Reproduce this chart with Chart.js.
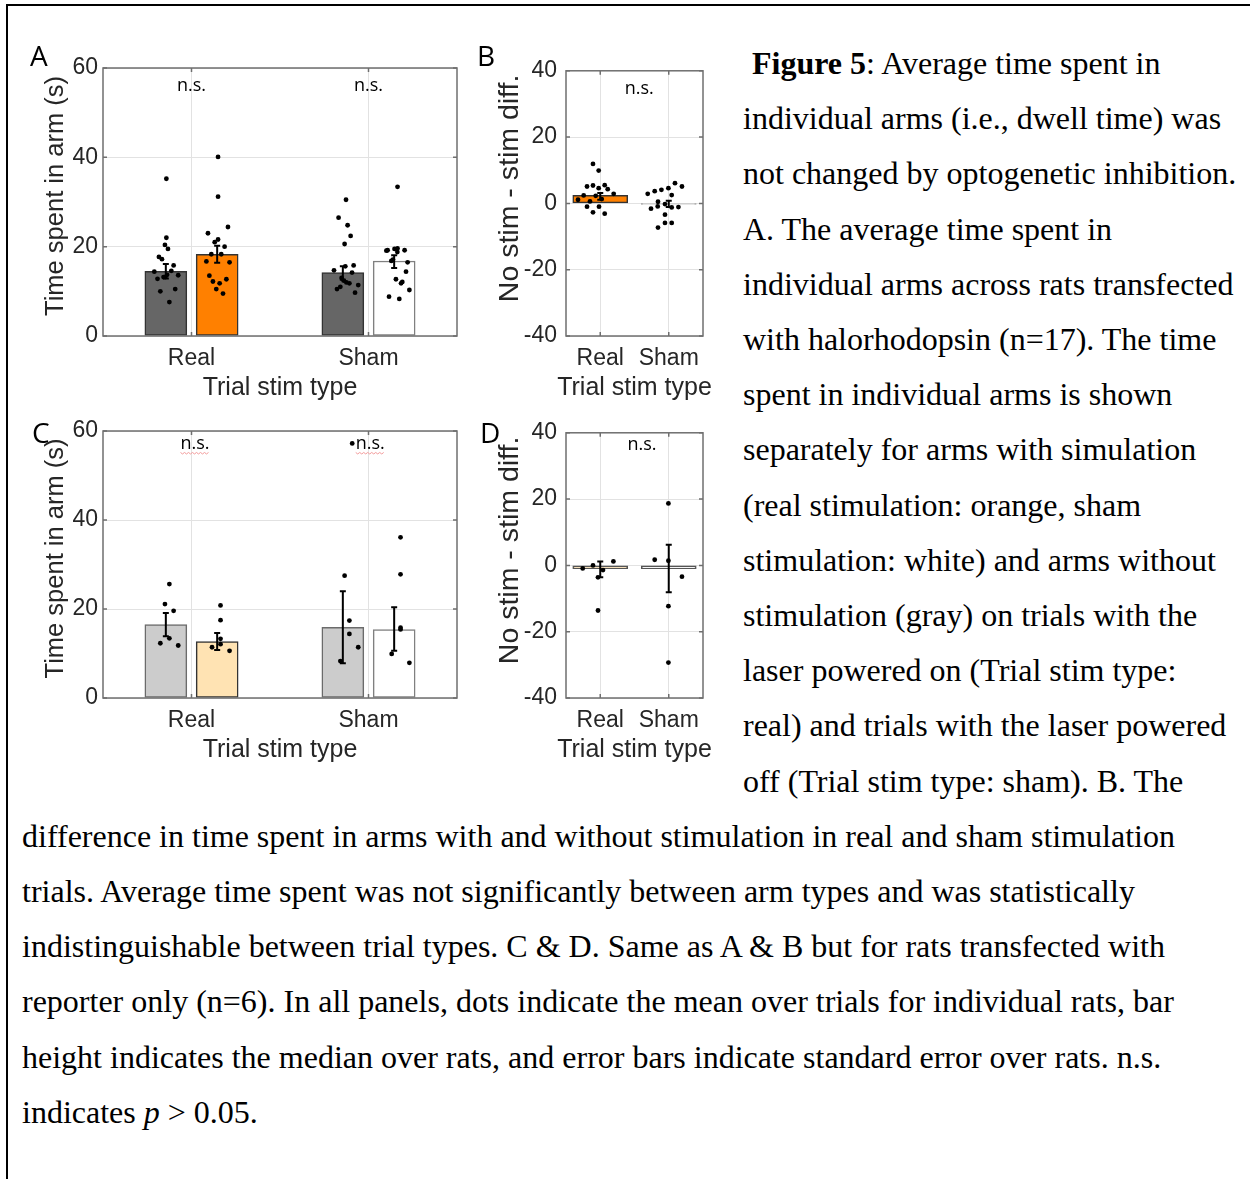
<!DOCTYPE html>
<html>
<head>
<meta charset="utf-8">
<script src="https://cdn.jsdelivr.net/npm/chart.js@4.4.1/dist/chart.umd.min.js"></script>
<style>
  html, body { margin: 0; padding: 0; background: #fff; }
  body { width: 1250px; height: 1179px; position: relative; overflow: hidden; }
  .frame { position: absolute; left: 6px; top: 4px; width: 1260px; height: 1190px; border-top: 2px solid #000; border-left: 2px solid #000; }
  .panel { position: absolute; }
  .letter { position: absolute; font-family: "Open Sans", sans-serif; font-size: 28px; line-height: 1; color: #000; }
  .cap { position: absolute; font-family: "Liberation Serif", "Times New Roman", serif; font-size: 32px; line-height: 1; white-space: nowrap; color: #000; }
</style>
</head>
<body>
<div class="frame"></div>

<div class="panel" style="left:20px;top:48px"><canvas id="chartA" width="450" height="360"></canvas></div>
<div class="panel" style="left:470px;top:48px"><canvas id="chartB" width="245" height="360"></canvas></div>
<div class="panel" style="left:20px;top:410px"><canvas id="chartC" width="450" height="360"></canvas></div>
<div class="panel" style="left:470px;top:410px"><canvas id="chartD" width="245" height="360"></canvas></div>

<div class="letter" style="left:30px;top:41px">A</div>
<div class="letter" style="left:477px;top:41px">B</div>
<div class="letter" style="left:32px;top:418px">C</div>
<div class="letter" style="left:480px;top:418px">D</div>

<div id="caption"></div>

<script>
const categories = ['Real', 'Sham'];

// ---- Panel A: halorhodopsin (n=17), dwell time (s) ----
const aNoStimBars = [14.5, 14.2];
const aStimBars = [18.3, 16.8];
const aNoStimErrLo = [12.9, 12.6];
const aNoStimErrHi = [16.1, 15.6];
const aStimErrLo = [16.4, 15.2];
const aStimErrHi = [20.2, 18.1];
const aRealNoStimY = [35.2, 22.0, 20.4, 19.5, 17.7, 17.2, 15.8, 14.4, 14.6, 13.7, 13.2, 12.8, 13.6, 13.2, 10.5, 10.0, 7.6];
const aRealNoStimX = [0.858, 0.858, 0.850, 0.867, 0.816, 0.833, 0.899, 0.790, 0.886, 0.862, 0.842, 0.808, 0.925, 0.852, 0.908, 0.824, 0.875];
const aRealStimY = [40.1, 31.2, 24.4, 23.0, 21.6, 21.0, 20.0, 18.3, 18.3, 16.7, 16.5, 13.5, 12.7, 12.2, 11.8, 10.5, 9.5];
const aRealStimX = [1.150, 1.150, 1.206, 1.093, 1.150, 1.131, 1.187, 1.112, 1.168, 1.084, 1.215, 1.101, 1.197, 1.121, 1.159, 1.140, 1.178];
const aShamNoStimY = [30.5, 26.5, 24.8, 22.4, 20.6, 15.6, 15.8, 14.7, 14.2, 13.0, 12.4, 12.0, 11.8, 11.0, 11.4, 10.5, 9.7];
const aShamNoStimX = [1.873, 1.831, 1.882, 1.899, 1.865, 1.869, 1.916, 1.805, 1.907, 1.848, 1.859, 1.875, 1.892, 1.841, 1.942, 1.822, 1.924];
const aShamStimY = [33.4, 19.5, 19.6, 19.1, 19.2, 19.2, 18.8, 17.1, 16.8, 16.5, 14.4, 12.7, 12.1, 11.8, 10.3, 8.8, 8.3];
const aShamStimX = [2.164, 2.147, 2.164, 2.101, 2.108, 2.204, 2.163, 2.138, 2.129, 2.221, 2.212, 2.155, 2.191, 2.184, 2.231, 2.116, 2.174];

// ---- Panel B: no stim - stim difference (halorhodopsin) ----
const bBars = [2.4, -0.2];
const bErrLo = [1.1, -1.1];
const bErrHi = [3.1, 0.8];
const bRealY = [11.9, 9.9, 5.1, 5.4, 4.6, 5.5, 4.3, 2.9, 2.4, 2.3, 1.3, 1.1, 0.6, -1.0, -1.0, -2.7, -3.1];
const bRealX = [0.894, 0.977, 0.807, 0.894, 0.977, 1.065, 1.109, 1.196, 0.758, 0.934, 1.021, 0.675, 0.850, 0.807, 0.982, 0.894, 1.065];
const bShamY = [6.1, 5.1, 4.6, 4.1, 3.7, 2.9, 2.5, 0.5, -0.2, -0.9, -1.2, -1.1, -1.6, -3.4, -5.9, -5.9, -7.3];
const bShamX = [2.091, 2.193, 1.995, 1.893, 1.795, 1.693, 2.043, 1.843, 1.945, 1.839, 2.043, 2.141, 1.741, 1.945, 1.945, 2.043, 1.843];

// ---- Panel C: reporter only (n=6) ----
const cNoStimBars = [16.5, 15.9];
const cStimBars = [12.7, 15.4];
const cNoStimErrLo = [13.9, 7.8];
const cNoStimErrHi = [19.1, 24.0];
const cStimErrLo = [10.8, 10.6];
const cStimErrHi = [14.6, 20.4];
const cRealNoStimY = [25.6, 21.1, 19.6, 13.4, 12.3, 11.8];
const cRealNoStimX = [0.875, 0.850, 0.899, 0.875, 0.824, 0.925];
const cRealStimY = [20.8, 17.5, 13.3, 12.1, 11.4, 10.6];
const cRealStimX = [1.164, 1.164, 1.164, 1.164, 1.116, 1.215];
const cShamNoStimY = [57.2, 27.5, 17.4, 14.4, 11.4, 8.3];
const cShamNoStimX = [1.908, 1.865, 1.892, 1.892, 1.942, 1.841];
const cShamStimY = [36.1, 27.8, 15.8, 15.4, 9.9, 7.9];
const cShamStimX = [2.181, 2.181, 2.181, 2.181, 2.131, 2.231];

// ---- Panel D: difference (reporter only) ----
const dBars = [-1.0, -1.0];
const dErrLo = [-3.6, -8.1];
const dErrHi = [1.2, 6.2];
const dRealY = [1.2, 0.0, -0.9, -1.4, -3.6, -13.6];
const dRealX = [1.192, 0.894, 0.744, 1.040, 0.967, 0.967];
const dShamY = [18.7, 1.7, 1.4, -3.4, -12.3, -29.3];
const dShamX = [1.995, 1.795, 1.995, 2.193, 1.995, 1.995];

// n.s. annotations (x in category units, y in data units)
const aNs = [{x: 1.0, y: 55.9}, {x: 2.0, y: 55.9}];
const bNs = [{x: 1.57, y: 34.5}];
const cNs = [{x: 1.02, y: 57.2}, {x: 2.01, y: 57.2}];
const dNs = [{x: 1.61, y: 36.4}];

const textColor = '#262626';
const gridColor = '#e2e2e2';
const frameColor = '#6f6f6f';
const tickFont = {family: '"Liberation Sans", Arial, sans-serif', size: 23};
const xTitleFont = '25px "Liberation Sans", Arial, sans-serif';
const groupOffset = 0.145;   // no-stim bar left of the category, stim bar right

function pts(xs, ys) {
    return xs.map((x, i) => ({x: x, y: ys[i]}));
}

function barPts(values, offset) {
    return values.map((v, i) => ({x: i + 1 + offset, y: v}));
}

// MATLAB-style box with inward ticks
const framePlugin = {
    id: 'matlabFrame',
    afterDraw(chart) {
        const {ctx, chartArea: a} = chart;
        const y = chart.scales.y, xs = chart.scales.xs;
        ctx.save();
        ctx.strokeStyle = frameColor;
        ctx.lineWidth = 1.5;
        ctx.strokeRect(a.left, a.top, a.right - a.left, a.bottom - a.top);
        ctx.beginPath();
        y.ticks.forEach(t => {
            const py = y.getPixelForValue(t.value);
            ctx.moveTo(a.left, py); ctx.lineTo(a.left + 4, py);
            ctx.moveTo(a.right, py); ctx.lineTo(a.right - 4, py);
        });
        [1, 2].forEach(v => {
            const px = xs.getPixelForValue(v);
            ctx.moveTo(px, a.bottom); ctx.lineTo(px, a.bottom - 4);
            ctx.moveTo(px, a.top); ctx.lineTo(px, a.top + 4);
        });
        ctx.stroke();
        ctx.restore();
    }
};

// error bars drawn at each bar's centre
const errorBarPlugin = {
    id: 'errorBars',
    afterDatasetsDraw(chart) {
        const ctx = chart.ctx, y = chart.scales.y;
        chart.data.datasets.forEach((ds, i) => {
            if (!ds.errLo) return;
            const meta = chart.getDatasetMeta(i);
            meta.data.forEach((bar, j) => {
                const x = bar.x;
                const top = y.getPixelForValue(ds.errHi[j]);
                const bot = y.getPixelForValue(ds.errLo[j]);
                ctx.save();
                ctx.strokeStyle = '#000';
                ctx.lineWidth = 2;
                ctx.beginPath();
                ctx.moveTo(x, top); ctx.lineTo(x, bot);
                ctx.moveTo(x - 3, top); ctx.lineTo(x + 3, top);
                ctx.moveTo(x - 3, bot); ctx.lineTo(x + 3, bot);
                ctx.stroke();
                ctx.restore();
            });
        });
    }
};

const nsPlugin = {
    id: 'nsLabels',
    afterDatasetsDraw(chart, args, opts) {
        const ctx = chart.ctx, xs = chart.scales.xs, y = chart.scales.y;
        ctx.save();
        ctx.font = '18px "Open Sans", sans-serif';
        ctx.fillStyle = '#000';
        ctx.textAlign = 'center';
        ctx.textBaseline = 'middle';
        (opts.items || []).forEach(it => {
            const px = xs.getPixelForValue(it.x), py = y.getPixelForValue(it.y);
            ctx.fillText('n.s.', px, py);
            if (opts.squiggle) {
                // spell-check underline as in the source document
                const w = ctx.measureText('n.s.').width;
                ctx.strokeStyle = '#f29a9a';
                ctx.lineWidth = 1;
                ctx.beginPath();
                let sx = px - w / 2;
                ctx.moveTo(sx, py + 9);
                for (let k = 0; sx + 2 <= px + w / 2; k++) {
                    sx += 2;
                    ctx.lineTo(sx, py + 9 + (k % 2 === 0 ? 1.5 : 0));
                }
                ctx.stroke();
            }
        });
        ctx.restore();
    }
};

// axis titles, drawn so they are not squeezed to the narrow plot width
const axisTextPlugin = {
    id: 'axisText',
    afterDraw(chart, args, opts) {
        const {ctx, chartArea: a} = chart;
        ctx.save();
        ctx.fillStyle = textColor;
        ctx.textAlign = 'center';
        ctx.textBaseline = 'middle';
        ctx.font = xTitleFont;
        ctx.fillText(opts.x, (a.left + a.right) / 2, a.bottom + opts.xGap);
        ctx.font = opts.yFont;
        ctx.translate(a.left - opts.yGap, (a.top + a.bottom) / 2 + opts.yShift);
        ctx.rotate(-Math.PI / 2);
        ctx.fillText(opts.y, 0, 0);
        ctx.restore();
    }
};

function makeChart(id, cfg) {
    const ctx = document.getElementById(id).getContext('2d');
    return new Chart(ctx, {
        type: 'bar',
        data: {labels: categories, datasets: cfg.datasets},
        options: {
            responsive: false,
            animation: false,
            devicePixelRatio: 1,
            layout: {padding: {top: cfg.padTop, right: cfg.padRight, bottom: 0, left: 0}},
            plugins: {
                legend: {display: false},
                tooltip: {enabled: false},
                nsLabels: {items: cfg.ns, squiggle: !!cfg.squiggle},
                axisText: {
                    x: 'Trial stim type', y: cfg.yTitle, xGap: 52,
                    yGap: cfg.yGap, yShift: cfg.yShift,
                    yFont: cfg.yTitleSize + 'px "Liberation Sans", Arial, sans-serif'
                }
            },
            scales: {
                x: {
                    type: 'category',
                    offset: true,
                    grid: {offset: false, color: gridColor, drawTicks: false},
                    border: {display: false},
                    ticks: {color: textColor, font: tickFont, padding: 9, maxRotation: 0, autoSkip: false},
                    afterFit: s => { s.height = 72; }
                },
                xs: {type: 'linear', display: false, offset: false, min: 0.5, max: 2.5},
                y: {
                    min: cfg.yMin,
                    max: cfg.yMax,
                    grid: {color: gridColor, drawTicks: false},
                    border: {display: false},
                    ticks: {stepSize: 20, color: textColor, font: tickFont, padding: cfg.tickPad},
                    afterFit: s => { s.width = cfg.yWidth; }
                }
            }
        },
        plugins: [errorBarPlugin, nsPlugin, framePlugin, axisTextPlugin]
    });
}

function dots(data) {
    return {
        type: 'scatter', xAxisID: 'xs', yAxisID: 'y', data: data, order: 1,
        pointRadius: 2.4, pointBackgroundColor: '#000', pointBorderWidth: 0
    };
}

function bars(data, width, fill, border, lo, hi) {
    return {
        type: 'bar', xAxisID: 'xs', yAxisID: 'y', data: data, order: 2,
        grouped: false, barThickness: width,
        backgroundColor: fill, borderColor: border, borderWidth: 1.5, borderSkipped: false,
        errLo: lo, errHi: hi
    };
}

makeChart('chartA', {
    padTop: 20, padRight: 13, yWidth: 83, tickPad: 5, yMin: 0, yMax: 60,
    yTitle: 'Time spent in arm (s)', yTitleSize: 25.5, yGap: 47, yShift: -6,
    ns: aNs,
    datasets: [
        bars(barPts(aNoStimBars, -groupOffset), 42, '#666666', '#333333', aNoStimErrLo, aNoStimErrHi),
        bars(barPts(aStimBars, groupOffset), 42, ['#ff8000', '#ffffff'], ['#333333', '#808080'], aStimErrLo, aStimErrHi),
        dots(pts(aRealNoStimX, aRealNoStimY).concat(pts(aRealStimX, aRealStimY),
             pts(aShamNoStimX, aShamNoStimY), pts(aShamStimX, aShamStimY)))
    ]
});

makeChart('chartB', {
    padTop: 20, padRight: 12, yWidth: 96, tickPad: 9, yMin: -40, yMax: 40,
    yTitle: 'No stim - stim diff.', yTitleSize: 28.5, yGap: 56, yShift: -15,
    ns: bNs,
    datasets: [
        bars(barPts(bBars, 0), 55, ['#ff8000', '#ffffff'], ['#333333', '#222222'], bErrLo, bErrHi),
        dots(pts(bRealX, bRealY).concat(pts(bShamX, bShamY)))
    ]
});

makeChart('chartC', {
    padTop: 21, padRight: 13, yWidth: 83, tickPad: 5, yMin: 0, yMax: 60,
    yTitle: 'Time spent in arm (s)', yTitleSize: 25.5, yGap: 47, yShift: -6,
    ns: cNs, squiggle: true,
    datasets: [
        bars(barPts(cNoStimBars, -groupOffset), 42, '#cccccc', '#6b6b6b', cNoStimErrLo, cNoStimErrHi),
        bars(barPts(cStimBars, groupOffset), 42, ['#ffe3b3', '#ffffff'], ['#333333', '#808080'], cStimErrLo, cStimErrHi),
        dots(pts(cRealNoStimX, cRealNoStimY).concat(pts(cRealStimX, cRealStimY),
             pts(cShamNoStimX, cShamNoStimY), pts(cShamStimX, cShamStimY)))
    ]
});

makeChart('chartD', {
    padTop: 21, padRight: 12, yWidth: 96, tickPad: 9, yMin: -40, yMax: 40,
    yTitle: 'No stim - stim diff.', yTitleSize: 28.5, yGap: 56, yShift: -15,
    ns: dNs,
    datasets: [
        bars(barPts(dBars, 0), 55, ['#ffe3b3', '#ffffff'], ['#555555', '#555555'], dErrLo, dErrHi),
        dots(pts(dRealX, dRealY).concat(pts(dShamX, dShamY)))
    ]
});

// figure caption, one line per row as laid out in the document
const captionRight = [
    '<b>Figure 5</b>: Average time spent in',
    'individual arms (i.e., dwell time) was',
    'not changed by optogenetic inhibition.',
    'A. The average time spent in',
    'individual arms across rats transfected',
    'with halorhodopsin (n=17). The time',
    'spent in individual arms is shown',
    'separately for arms with simulation',
    '(real stimulation: orange, sham',
    'stimulation: white) and arms without',
    'stimulation (gray) on trials with the',
    'laser powered on (Trial stim type:',
    'real) and trials with the laser powered',
    'off (Trial stim type: sham). B. The'
];
const captionFull = [
    'difference in time spent in arms with and without stimulation in real and sham stimulation',
    'trials. Average time spent was not significantly between arm types and was statistically',
    'indistinguishable between trial types. C &amp; D. Same as A &amp; B but for rats transfected with',
    'reporter only (n=6). In all panels, dots indicate the mean over trials for individual rats, bar',
    'height indicates the median over rats, and error bars indicate standard error over rats. n.s.',
    'indicates <i>p</i> &gt; 0.05.'
];
const capEl = document.getElementById('caption');
const lineStep = 55.2;
const firstTop = 47;
let html = '';
captionRight.forEach((t, i) => {
    const left = i === 0 ? 752 : 743;
    html += `<div class="cap" style="left:${left}px;top:${(firstTop + i * lineStep).toFixed(1)}px">${t}</div>`;
});
captionFull.forEach((t, i) => {
    const k = i + captionRight.length;
    html += `<div class="cap" style="left:22px;top:${(firstTop + k * lineStep).toFixed(1)}px">${t}</div>`;
});
capEl.innerHTML = html;
</script>
</body>
</html>
